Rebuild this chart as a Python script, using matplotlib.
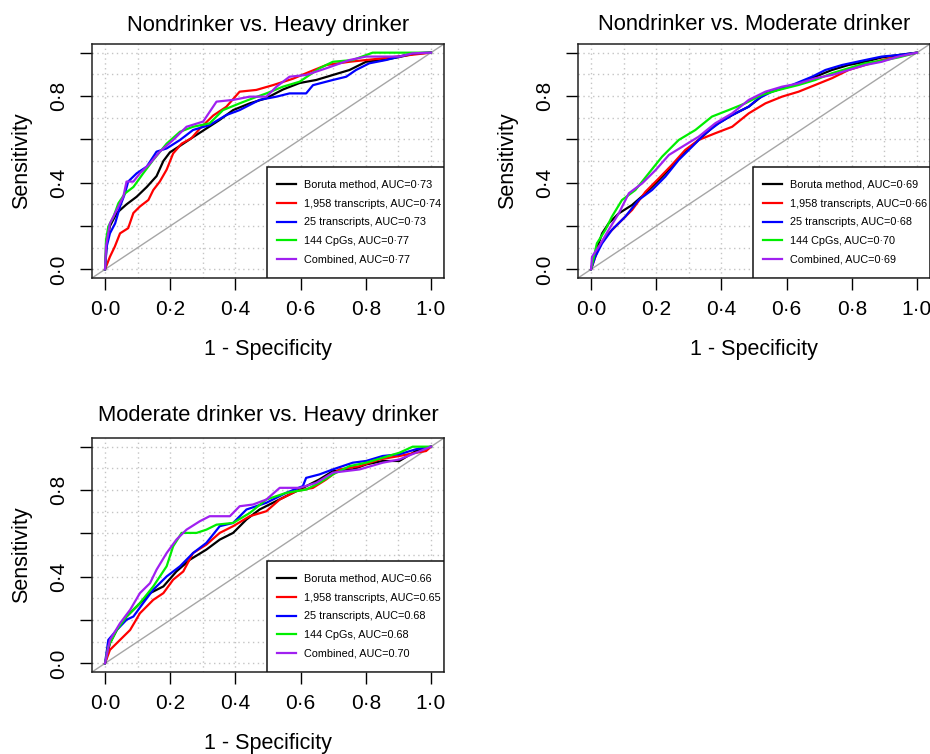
import numpy as np
import matplotlib
matplotlib.use("Agg")
import matplotlib.pyplot as plt
from matplotlib.patches import Rectangle

plt.rcParams["font.family"] = ["Liberation Sans", "DejaVu Sans"]

# ---- data: (1 - specificity, sensitivity) ----
nh_boruta = [(0, 0), (0.005, 0.12), (0.015, 0.2), (0.036, 0.26), (0.066, 0.30), (0.097, 0.335),
             (0.128, 0.38), (0.158, 0.43), (0.179, 0.50), (0.199, 0.54), (0.230, 0.57), (0.270, 0.61),
             (0.311, 0.65), (0.352, 0.69), (0.393, 0.735), (0.444, 0.766), (0.495, 0.79), (0.546, 0.83),
             (0.597, 0.86), (0.648, 0.874), (0.699, 0.897), (0.750, 0.92), (0.801, 0.958), (0.852, 0.966),
             (0.903, 0.98), (0.954, 0.997), (1, 1)]
nh_1958 = [(0, 0), (0.015, 0.058), (0.03, 0.105), (0.046, 0.166), (0.071, 0.19), (0.087, 0.26),
           (0.107, 0.29), (0.133, 0.32), (0.148, 0.366), (0.168, 0.405), (0.189, 0.46), (0.209, 0.535),
           (0.235, 0.58), (0.265, 0.605), (0.291, 0.65), (0.332, 0.71), (0.372, 0.75), (0.413, 0.82),
           (0.464, 0.828), (0.515, 0.85), (0.577, 0.88), (0.628, 0.912), (0.679, 0.943), (0.75, 0.958),
           (0.852, 0.974), (0.934, 0.989), (1, 1)]
nh_25 = [(0, 0), (0.005, 0.105), (0.015, 0.166), (0.031, 0.212), (0.046, 0.29), (0.061, 0.35),
         (0.071, 0.405), (0.097, 0.443), (0.128, 0.474), (0.158, 0.543), (0.189, 0.558), (0.23, 0.597),
         (0.27, 0.643), (0.321, 0.666), (0.372, 0.712), (0.413, 0.735), (0.474, 0.782), (0.526, 0.797),
         (0.566, 0.812), (0.617, 0.812), (0.638, 0.85), (0.699, 0.874), (0.740, 0.889), (0.770, 0.92),
         (0.811, 0.951), (0.862, 0.966), (0.903, 0.982), (0.944, 0.997), (1, 1)]
nh_cpg = [(0, 0), (0.003, 0.135), (0.01, 0.197), (0.026, 0.243), (0.041, 0.305), (0.061, 0.35),
          (0.087, 0.38), (0.117, 0.443), (0.148, 0.505), (0.189, 0.58), (0.23, 0.635), (0.27, 0.658),
          (0.321, 0.674), (0.362, 0.735), (0.413, 0.766), (0.454, 0.79), (0.495, 0.812), (0.546, 0.843),
          (0.597, 0.866), (0.658, 0.928), (0.699, 0.958), (0.760, 0.966), (0.821, 1.0), (1, 1)]
nh_comb = [(0, 0), (0.003, 0.105), (0.015, 0.212), (0.036, 0.274), (0.056, 0.335), (0.066, 0.405),
           (0.087, 0.405), (0.107, 0.443), (0.138, 0.489), (0.168, 0.543), (0.209, 0.597), (0.25, 0.658),
           (0.301, 0.682), (0.342, 0.774), (0.393, 0.782), (0.444, 0.797), (0.495, 0.797), (0.526, 0.843),
           (0.566, 0.889), (0.617, 0.897), (0.679, 0.928), (0.75, 0.966), (0.801, 0.982), (0.903, 0.982),
           (0.944, 0.997), (1, 1)]

nm_boruta = [(0, 0), (0.013, 0.074), (0.034, 0.166), (0.054, 0.212), (0.085, 0.258), (0.126, 0.297),
             (0.167, 0.351), (0.208, 0.412), (0.248, 0.474), (0.289, 0.543), (0.33, 0.597), (0.381, 0.666),
             (0.433, 0.712), (0.484, 0.751), (0.535, 0.812), (0.586, 0.835), (0.637, 0.858), (0.688, 0.889),
             (0.739, 0.92), (0.79, 0.943), (0.841, 0.958), (0.892, 0.978), (0.943, 0.989), (1, 1)]
nm_1958 = [(0, 0), (0.024, 0.105), (0.054, 0.166), (0.095, 0.228), (0.126, 0.274), (0.167, 0.358),
           (0.208, 0.42), (0.248, 0.482), (0.289, 0.551), (0.33, 0.597), (0.381, 0.628), (0.433, 0.658),
           (0.484, 0.72), (0.535, 0.766), (0.586, 0.797), (0.637, 0.82), (0.688, 0.851), (0.739, 0.882),
           (0.79, 0.92), (0.841, 0.943), (0.892, 0.966), (0.943, 0.982), (1, 1)]
nm_25 = [(0, 0), (0.013, 0.058), (0.034, 0.12), (0.064, 0.182), (0.105, 0.243), (0.146, 0.32),
         (0.187, 0.366), (0.228, 0.428), (0.269, 0.505), (0.31, 0.566), (0.351, 0.628), (0.392, 0.674),
         (0.433, 0.712), (0.484, 0.751), (0.514, 0.789), (0.555, 0.82), (0.617, 0.851), (0.678, 0.889),
         (0.719, 0.92), (0.77, 0.943), (0.841, 0.966), (0.892, 0.982), (0.943, 0.989), (1, 1)]
nm_cpg = [(0, 0), (0.018, 0.12), (0.044, 0.182), (0.064, 0.243), (0.095, 0.32), (0.136, 0.366),
          (0.177, 0.443), (0.218, 0.52), (0.269, 0.597), (0.32, 0.643), (0.371, 0.705), (0.422, 0.735),
          (0.473, 0.766), (0.524, 0.805), (0.576, 0.828), (0.637, 0.851), (0.688, 0.874), (0.739, 0.905),
          (0.79, 0.928), (0.841, 0.951), (0.903, 0.966), (0.943, 0.978), (1, 1)]
nm_comb = [(0, 0), (0.003, 0.058), (0.024, 0.105), (0.054, 0.182), (0.085, 0.258), (0.116, 0.351),
           (0.157, 0.397), (0.198, 0.458), (0.239, 0.528), (0.28, 0.566), (0.33, 0.612), (0.381, 0.674),
           (0.433, 0.72), (0.484, 0.782), (0.535, 0.82), (0.586, 0.843), (0.637, 0.858), (0.688, 0.882),
           (0.739, 0.897), (0.79, 0.92), (0.841, 0.943), (0.892, 0.958), (0.943, 0.982), (1, 1)]

mh_boruta = [(0, 0), (0.015, 0.093), (0.036, 0.154), (0.066, 0.216), (0.097, 0.262), (0.138, 0.324),
             (0.179, 0.355), (0.219, 0.424), (0.26, 0.478), (0.311, 0.525), (0.352, 0.571), (0.393, 0.602),
             (0.434, 0.664), (0.474, 0.71), (0.515, 0.741), (0.556, 0.772), (0.597, 0.802), (0.658, 0.849),
             (0.699, 0.887), (0.76, 0.895), (0.801, 0.918), (0.852, 0.934), (0.903, 0.934), (0.954, 0.98),
             (1, 1)]
mh_1958 = [(0, 0), (0.015, 0.062), (0.046, 0.108), (0.077, 0.154), (0.107, 0.231), (0.148, 0.293),
           (0.179, 0.324), (0.209, 0.386), (0.24, 0.424), (0.27, 0.509), (0.311, 0.548), (0.352, 0.602),
           (0.393, 0.633), (0.444, 0.679), (0.495, 0.702), (0.536, 0.756), (0.587, 0.795), (0.638, 0.81),
           (0.679, 0.849), (0.719, 0.895), (0.781, 0.91), (0.842, 0.941), (0.903, 0.957), (0.954, 0.972),
           (0.985, 0.98), (1, 1)]
mh_25 = [(0, 0), (0.01, 0.108), (0.036, 0.154), (0.066, 0.201), (0.087, 0.216), (0.117, 0.278),
         (0.148, 0.34), (0.189, 0.401), (0.23, 0.448), (0.27, 0.509), (0.311, 0.556), (0.352, 0.633),
         (0.393, 0.648), (0.434, 0.71), (0.495, 0.741), (0.556, 0.787), (0.607, 0.818), (0.617, 0.856),
         (0.658, 0.872), (0.699, 0.895), (0.76, 0.926), (0.801, 0.934), (0.852, 0.957), (0.903, 0.965),
         (0.954, 0.988), (1, 1)]
mh_cpg = [(0, 0), (0.01, 0.077), (0.036, 0.154), (0.066, 0.216), (0.107, 0.278), (0.148, 0.355),
          (0.189, 0.448), (0.209, 0.54), (0.235, 0.602), (0.281, 0.602), (0.311, 0.617), (0.342, 0.64),
          (0.393, 0.648), (0.444, 0.694), (0.495, 0.756), (0.556, 0.787), (0.617, 0.802), (0.658, 0.833),
          (0.699, 0.872), (0.75, 0.91), (0.801, 0.926), (0.852, 0.949), (0.903, 0.972), (0.944, 1.0),
          (1, 1)]
mh_comb = [(0, 0), (0.015, 0.108), (0.046, 0.185), (0.077, 0.247), (0.107, 0.324), (0.138, 0.37),
           (0.158, 0.432), (0.189, 0.509), (0.219, 0.571), (0.25, 0.617), (0.291, 0.656), (0.321, 0.679),
           (0.383, 0.679), (0.413, 0.725), (0.454, 0.733), (0.495, 0.756), (0.536, 0.81), (0.597, 0.81),
           (0.648, 0.833), (0.699, 0.88), (0.781, 0.895), (0.852, 0.926), (0.903, 0.941), (0.954, 0.972),
           (1, 1)]

methods = ["Boruta method", "1,958 transcripts", "25 transcripts", "144 CpGs", "Combined"]
colors = ["#000000", "#FF0000", "#0000FF", "#00EE00", "#A020F0"]
titles = ["Nondrinker vs. Heavy drinker", "Nondrinker vs. Moderate drinker",
          "Moderate drinker vs. Heavy drinker"]
auc_nh = ["0\u00b773", "0\u00b774", "0\u00b773", "0\u00b777", "0\u00b777"]
auc_nm = ["0\u00b769", "0\u00b766", "0\u00b768", "0\u00b770", "0\u00b769"]
auc_mh = ["0.66", "0.65", "0.68", "0.68", "0.70"]
xticks = [0, 0.2, 0.4, 0.6, 0.8, 1.0]
xtick_labels = ["0\u00b70", "0\u00b72", "0\u00b74", "0\u00b76", "0\u00b78", "1\u00b70"]
ytick_labels = ["0\u00b70", "", "0\u00b74", "", "0\u00b78", ""]

panels = [
    (titles[0], [nh_boruta, nh_1958, nh_25, nh_cpg, nh_comb], auc_nh, (92, 44), 25),
    (titles[1], [nm_boruta, nm_1958, nm_25, nm_cpg, nm_comb], auc_nm, (578, 44), 25),
    (titles[2], [mh_boruta, mh_1958, mh_25, mh_cpg, mh_comb], auc_mh, (92, 438), 415),
]

W, H = 930, 754
fig = plt.figure(figsize=(W / 100, H / 100), dpi=100)
aw, ah = 352, 234
leg_x0, leg_h = 0.496, 0.476   # legend box, axes fraction (R draws it flush to the corner)

for title, curves, aucs, (left, top), title_y in panels:
    ax = fig.add_axes([left / W, 1 - (top + ah) / H, aw / W, ah / H])
    ax.set_xlim(-0.04, 1.04)
    ax.set_ylim(-0.04, 1.04)
    # dotted grid every 0.1
    for g in np.arange(0, 1.01, 0.1):
        ax.axvline(g, color="#c4c4c4", lw=1.0, ls=(0, (1, 2.5)), zorder=0)
        ax.axhline(g, color="#c4c4c4", lw=1.0, ls=(0, (1, 2.5)), zorder=0)
    ax.plot([-0.04, 1.04], [-0.04, 1.04], color="#a6a6a6", lw=1.0, zorder=1)
    for pts, c, m, a in zip(curves, colors, methods, aucs):
        arr = np.array(pts)
        ax.plot(arr[:, 0], arr[:, 1], color=c, lw=1.6, label=f"{m}, AUC={a}", zorder=2)
    for s in ax.spines.values():
        s.set_linewidth(1.1)
        s.set_color("#222222")
    ax.set_xticks(xticks)
    ax.set_xticklabels(xtick_labels)
    ax.set_yticks(xticks)
    ax.set_yticklabels(ytick_labels)
    ax.tick_params(length=8.5, width=1.0, labelsize=15, pad=7)
    ax.tick_params(axis="y", pad=9)
    for lab in ax.get_yticklabels():
        lab.set_rotation(90)
        lab.set_va("center")
    ax.add_patch(Rectangle((leg_x0, 0), 1 - leg_x0, leg_h, transform=ax.transAxes,
                           facecolor="white", edgecolor="#111111", lw=1.1, zorder=4))
    leg = ax.legend(loc="center", bbox_to_anchor=(leg_x0 + 0.01, 0, 1 - leg_x0, leg_h),
                    fontsize=7.8, frameon=False, handlelength=1.8,
                    handletextpad=0.7, labelspacing=0.8, borderpad=0.2)
    leg.set_zorder(5)
    cx = (left + aw / 2) / W
    fig.text(cx, 1 - title_y / H, title, ha="center", va="center", fontsize=15.8)
    fig.text(cx, 1 - (top + ah + 71) / H, "1 - Specificity", ha="center", va="center", fontsize=15.5)
    fig.text((left - 70) / W, 1 - (top + ah / 2) / H, "Sensitivity", rotation=90,
             ha="center", va="center", fontsize=15.5)

fig.savefig("out.png", dpi=100)
